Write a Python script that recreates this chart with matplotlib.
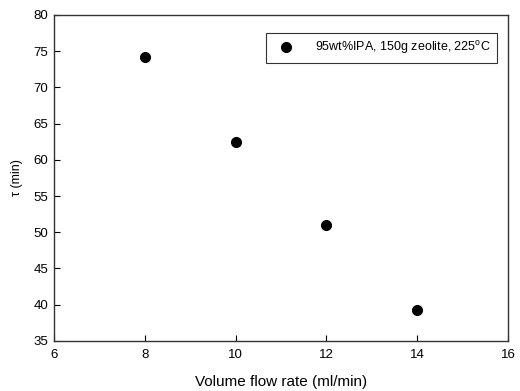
import matplotlib.pyplot as plt

plt.rcParams['font.family'] = ['Liberation Sans', 'DejaVu Sans']
plt.rcParams['mathtext.fontset'] = 'custom'
plt.rcParams['mathtext.rm'] = 'Liberation Sans'

flow_rate = [8, 10, 12, 14]
tau = [74.2, 62.4, 51.0, 39.3]
series_label = r'95wt%IPA, 150g zeolite, 225$^{\mathrm{o}}$C'

fig = plt.figure(figsize=(5.2, 3.91), dpi=100)
ax = fig.add_axes([0.104, 0.128, 0.873, 0.834])

ax.plot(flow_rate, tau, 'o', color='black', markersize=7, label=series_label)

ax.set_xlim(6, 16)
ax.set_ylim(35, 80)
ax.set_xticks(range(6, 17, 2))
ax.set_yticks(range(35, 81, 5))
ax.tick_params(direction='in', length=4, labelsize=9.5, pad=6, top=False, right=False)
ax.tick_params(axis='y', pad=4)
for s in ax.spines.values():
    s.set_color('#333333')
    s.set_linewidth(1.0)

ax.set_xlabel('Volume flow rate (ml/min)', fontsize=11, labelpad=10)
ax.set_ylabel('τ (min)', fontsize=9, labelpad=8)

leg = ax.legend(loc='upper right', bbox_to_anchor=(0.976, 0.944), fontsize=9,
                frameon=True, fancybox=False, borderaxespad=0, handletextpad=1.2,
                borderpad=0.5, handlelength=2.2)
leg.get_frame().set_edgecolor('black')
leg.get_frame().set_linewidth(0.8)

fig.savefig('out.png', dpi=100)
